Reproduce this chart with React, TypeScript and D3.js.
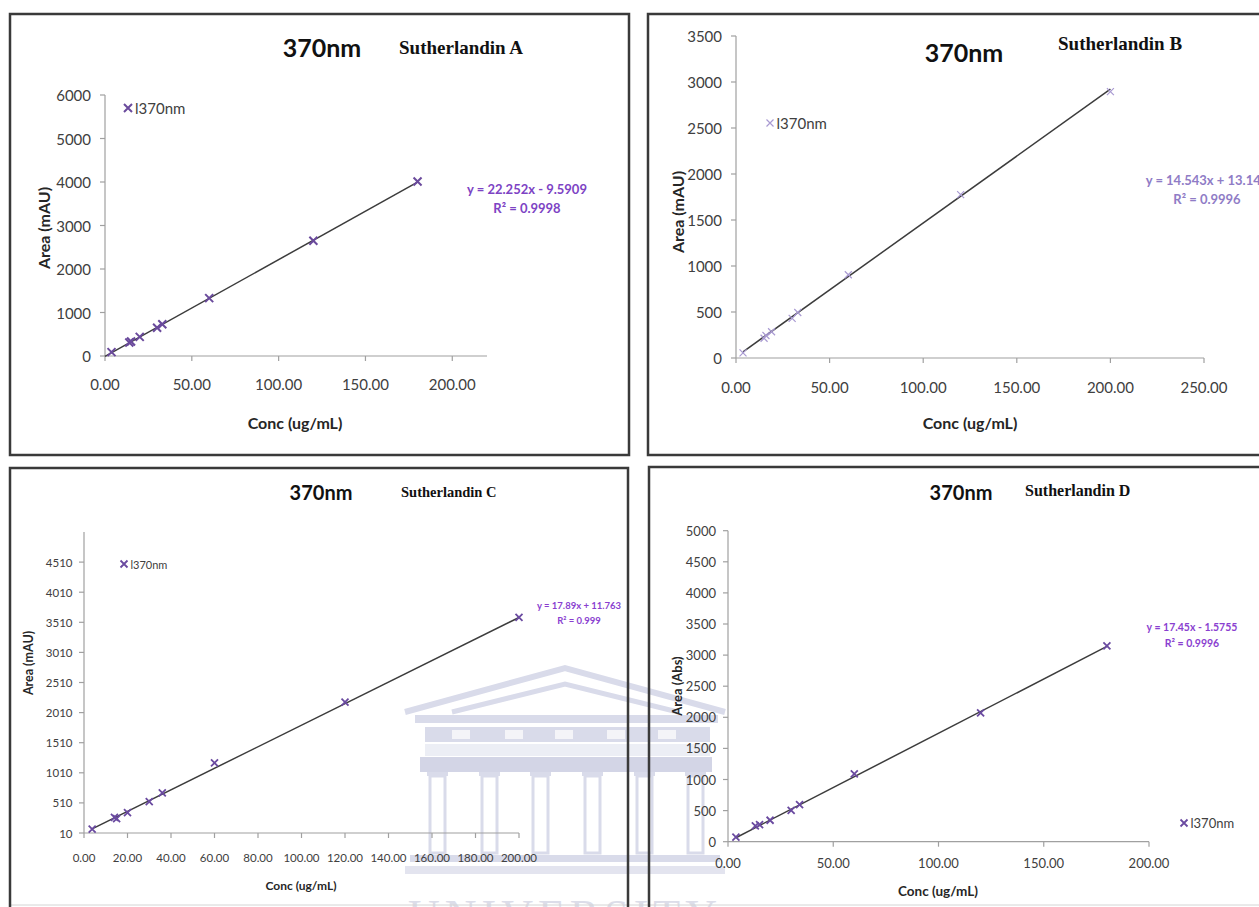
import React from 'react';
import * as d3 from 'd3';

// ---- data (conc in ug/mL, area in mAU) ----
const concA = [3.75, 14, 15, 20, 30, 33, 60, 120, 180];
const areaA = [90, 310, 335, 440, 650, 730, 1330, 2650, 4010];
const fitA = { slope: 22.252, intercept: -9.5909, r2: '0.9998' };
const xTicksA = [0, 50, 100, 150, 200];
const yTicksA = [0, 1000, 2000, 3000, 4000, 5000, 6000];

const concB = [3.75, 15, 16, 19, 30, 33, 60, 120, 200];
const areaB = [55, 215, 245, 285, 430, 495, 905, 1775, 2895];
const fitB = { slope: 14.543, intercept: 13.149, r2: '0.9996' };
const xTicksB = [0, 50, 100, 150, 200, 250];
const yTicksB = [0, 500, 1000, 1500, 2000, 2500, 3000, 3500];

const concC = [3.75, 14, 15, 20, 30, 36, 60, 120, 200];
const areaC = [75, 268, 250, 350, 530, 675, 1175, 2185, 3590];
const fitC = { slope: 17.89, intercept: 11.763, r2: '0.999' };
const xTicksC = [0, 20, 40, 60, 80, 100, 120, 140, 160, 180, 200];
const yTicksC = [10, 510, 1010, 1510, 2010, 2510, 3010, 3510, 4010, 4510];

const concD = [3.75, 13, 15, 20, 30, 34, 60, 120, 180];
const areaD = [75, 255, 275, 345, 505, 595, 1090, 2070, 3150];
const fitD = { slope: 17.45, intercept: -1.5755, r2: '0.9996' };
const xTicksD = [0, 50, 100, 150, 200];
const yTicksD = [0, 500, 1000, 1500, 2000, 2500, 3000, 3500, 4000, 4500, 5000];

const seriesName = 'l370nm';
const wavelength = '370nm';
const compounds = ['Sutherlandin A', 'Sutherlandin B', 'Sutherlandin C', 'Sutherlandin D'];
const xTitle = 'Conc (ug/mL)';
const yTitles = ['Area (mAU)', 'Area (mAU)', 'Area (mAU)', 'Area (Abs)'];

const eqText = (f) =>
  `y = ${f.slope}x ${f.intercept < 0 ? '-' : '+'} ${Math.abs(f.intercept)}`;

const sans = 'Lato, "Open Sans", sans-serif';
const serif = '"Liberation Serif", "DejaVu Serif", serif';

const panels = [
  {
    conc: concA, area: areaA, fit: fitA, fitFrom: 0, xTicks: xTicksA, yTicks: yTicksA,
    name: compounds[0], yTitle: yTitles[0],
    box: [10, 14, 619, 441],
    xDomain: [0, 220], xRange: [105, 487], yDomain: [0, 6000], yRange: [356, 95],
    tickFont: 15, yLabGap: 14, xLabGap: 28,
    title: [322, 57, 25], sub: [399, 53.5, 19],
    xTitlePos: [295, 422, 16], yTitlePos: [43, 228, 16],
    legend: [128, 108, 15], eq: [527, 189, 208, 13],
    mark: { size: 4, width: 2, color: '#6a4a9c' }, eqColor: '#7d43c4',
  },
  {
    conc: concB, area: areaB, fit: fitB, xTicks: xTicksB, yTicks: yTicksB,
    name: compounds[1], yTitle: yTitles[1],
    box: [648, 14, 640, 441],
    xDomain: [0, 250], xRange: [736, 1204], yDomain: [0, 3500], yRange: [358, 36],
    tickFont: 15, yLabGap: 14, xLabGap: 29,
    title: [964, 62, 25], sub: [1058, 49.5, 19],
    xTitlePos: [970, 422, 16], yTitlePos: [677, 212, 16],
    legend: [770, 123, 15], eq: [1207, 180, 199, 13],
    mark: { size: 3.5, width: 1.2, color: '#a99ad2' }, eqColor: '#8f7cc6',
  },
  {
    conc: concC, area: areaC, fit: fitC, xTicks: xTicksC, yTicks: yTicksC,
    name: compounds[2], yTitle: yTitles[2],
    box: [10, 468, 618, 460],
    xDomain: [0, 200], xRange: [84, 519], yDomain: [10, 5010], yRange: [833, 532],
    tickFont: 11.5, yLabGap: 11.5, xLabGap: 24,
    title: [321, 500, 20], sub: [401, 497, 14.5],
    xTitlePos: [301, 885, 12], yTitlePos: [28, 663, 12.5],
    legend: [124, 564, 11], eq: [579, 605, 620, 9.5],
    mark: { size: 3.5, width: 1.8, color: '#6a4aa0' }, eqColor: '#8a3fd0',
  },
  {
    conc: concD, area: areaD, fit: fitD, xTicks: xTicksD, yTicks: yTicksD,
    name: compounds[3], yTitle: yTitles[3],
    box: [649, 467, 640, 460],
    xDomain: [0, 200], xRange: [728, 1149], yDomain: [0, 5000], yRange: [841.7, 530.7],
    tickFont: 13, yLabGap: 12, xLabGap: 21,
    title: [961, 500, 20], sub: [1025, 495.5, 16],
    xTitlePos: [938, 891, 13.5], yTitlePos: [677, 686, 13],
    legend: [1184, 823, 13], eq: [1192, 627, 643, 10.5],
    mark: { size: 3.5, width: 1.8, color: '#6a4aa0' }, eqColor: '#8a3fd0',
  },
];

function Cross({ cx, cy, m }) {
  const s = m.size;
  return (
    <path
      d={`M${cx - s},${cy - s}L${cx + s},${cy + s}M${cx - s},${cy + s}L${cx + s},${cy - s}`}
      stroke={m.color}
      strokeWidth={m.width}
      fill="none"
    />
  );
}

function Panel({ p }) {
  const x = d3.scaleLinear().domain(p.xDomain).range(p.xRange);
  const y = d3.scaleLinear().domain(p.yDomain).range(p.yRange);
  const fmt = d3.format('.2f');
  const ax = p.xRange[0];
  const ay = p.yRange[0];
  const from = p.fitFrom !== undefined ? p.fitFrom : d3.min(p.conc);
  const to = d3.max(p.conc);
  const fitLine = d3
    .line()
    .x((d) => x(d))
    .y((d) => y(p.fit.slope * d + p.fit.intercept))([from, to]);
  const [bx, by, bw, bh] = p.box;

  return (
    <g>
      <rect x={bx} y={by} width={bw} height={bh} fill="none" stroke="#3a3a3a" strokeWidth={2.5} />
      {/* axes */}
      <line x1={ax} x2={ax} y1={ay} y2={p.yRange[1]} stroke="#a0a0a0" strokeWidth={1.2} />
      <line x1={ax} x2={p.xRange[1]} y1={ay} y2={ay} stroke="#a0a0a0" strokeWidth={1.2} />
      {p.yTicks.map((t) => (
        <g key={'y' + t}>
          <line x1={ax - 5} x2={ax} y1={y(t)} y2={y(t)} stroke="#a0a0a0" strokeWidth={1.2} />
          <text
            x={ax - p.yLabGap}
            y={y(t)}
            textAnchor="end"
            dominantBaseline="central"
            fontSize={p.tickFont}
            fill="#404040"
            fontFamily={sans}
          >
            {t}
          </text>
        </g>
      ))}
      {p.xTicks.map((t) => (
        <g key={'x' + t}>
          <line x1={x(t)} x2={x(t)} y1={ay} y2={ay + 5} stroke="#a0a0a0" strokeWidth={1.2} />
          <text
            x={x(t)}
            y={ay + p.xLabGap}
            textAnchor="middle"
            dominantBaseline="central"
            fontSize={p.tickFont}
            fill="#404040"
            fontFamily={sans}
          >
            {fmt(t)}
          </text>
        </g>
      ))}
      {/* trendline + points */}
      <path d={fitLine} stroke="#3c3c3c" strokeWidth={1.5} fill="none" />
      {p.conc.map((c, i) => (
        <Cross key={i} cx={x(c)} cy={y(p.area[i])} m={p.mark} />
      ))}
      {/* titles */}
      <text x={p.title[0]} y={p.title[1]} textAnchor="middle" fontSize={p.title[2]} fontWeight={700} fill="#111" fontFamily={sans}>
        {wavelength}
      </text>
      <text x={p.sub[0]} y={p.sub[1]} fontSize={p.sub[2]} fontWeight={700} fill="#111" fontFamily={serif}>
        {p.name}
      </text>
      <text x={p.xTitlePos[0]} y={p.xTitlePos[1]} textAnchor="middle" dominantBaseline="central" fontSize={p.xTitlePos[2]} fontWeight={700} fill="#262626" fontFamily={sans}>
        {xTitle}
      </text>
      <text
        transform={`translate(${p.yTitlePos[0]},${p.yTitlePos[1]}) rotate(-90)`}
        textAnchor="middle"
        dominantBaseline="central"
        fontSize={p.yTitlePos[2]}
        fontWeight={700}
        fill="#262626"
        fontFamily={sans}
      >
        {p.yTitle}
      </text>
      {/* legend */}
      <Cross cx={p.legend[0]} cy={p.legend[1]} m={p.mark} />
      <text x={p.legend[0] + p.mark.size + 3} y={p.legend[1]} dominantBaseline="central" fontSize={p.legend[2]} fill="#404040" fontFamily={sans}>
        {seriesName}
      </text>
      {/* trendline label */}
      <text x={p.eq[0]} y={p.eq[1]} textAnchor="middle" dominantBaseline="central" fontSize={p.eq[3]} fontWeight={700} fill={p.eqColor} fontFamily={sans}>
        {eqText(p.fit)}
      </text>
      <text x={p.eq[0]} y={p.eq[2]} textAnchor="middle" dominantBaseline="central" fontSize={p.eq[3]} fontWeight={700} fill={p.eqColor} fontFamily={sans}>
        R² = {p.fit.r2}
      </text>
    </g>
  );
}

// faint university watermark behind the lower panels
function Watermark() {
  const c = '#d9dbea';
  const cols = [430, 482, 533, 585, 637, 688];
  const slots = [452, 505, 555, 607, 658];
  return (
    <g>
      <polyline points="405,712 565,668 725,712" fill="none" stroke={c} strokeWidth={6} />
      <polyline points="452,712 565,684 678,712" fill="none" stroke={c} strokeWidth={5} />
      <rect x={415} y={715} width={303} height={8} fill={c} />
      <rect x={425} y={727} width={285} height={15} fill={c} />
      {slots.map((s) => (
        <rect key={s} x={s} y={730} width={18} height={9} fill="#f4f4f8" />
      ))}
      <rect x={425} y={744} width={285} height={12} fill="#eceef5" />
      <rect x={420} y={757} width={292} height={15} fill="#d3d5e6" />
      {cols.map((cx) => (
        <g key={cx}>
          <rect x={cx - 3} y={772} width={21} height={4} fill={c} />
          <rect x={cx} y={776} width={15} height={77} fill="none" stroke={c} strokeWidth={3} />
        </g>
      ))}
      <rect x={410} y={855} width={310} height={7} fill={c} />
      <rect x={405} y={866} width={320} height={8} fill="#e3e4ef" />
      <text x={408} y={930} fontSize={44} letterSpacing={5} fill="#dcdde9" fontFamily={serif}>
        UNIVERSITY
        <tspan fontSize={26} dx={10}>of the</tspan>
      </text>
    </g>
  );
}

export default function App() {
  return (
    <svg
      width={1259}
      height={907}
      viewBox="0 0 1259 907"
      style={{ position: 'absolute', left: 0, top: 0, background: '#fff' }}
    >
      <rect x={0} y={0} width={1259} height={907} fill="#fff" />
      <Watermark />
      <line x1={10} x2={1259} y1={905} y2={905} stroke="#d4d4d4" strokeWidth={1} />
      {panels.map((p) => (
        <Panel key={p.name} p={p} />
      ))}
    </svg>
  );
}
